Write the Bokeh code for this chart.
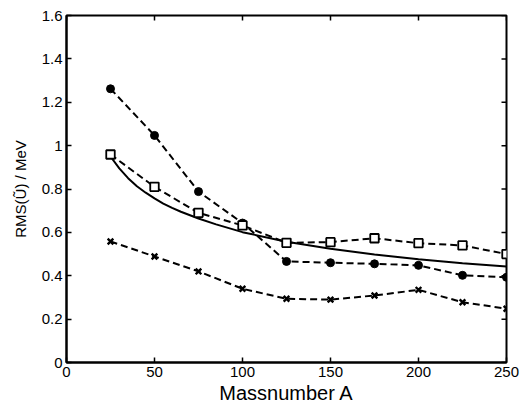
from bokeh.plotting import figure
from bokeh.models import Range1d, FixedTicker, LinearAxis, Title
from bokeh.embed import file_html
from bokeh.resources import INLINE

# ---- data ----
mass = [25, 50, 75, 100, 125, 150, 175, 200, 225, 250]
rms_dots = [1.262, 1.047, 0.788, 0.643, 0.466, 0.460, 0.455, 0.448, 0.402, 0.393]
rms_squares = [0.959, 0.810, 0.690, 0.632, 0.552, 0.555, 0.573, 0.550, 0.540, 0.500]
rms_crosses = [0.558, 0.489, 0.420, 0.340, 0.294, 0.290, 0.309, 0.335, 0.278, 0.248]

fit_mass = [25, 30, 35, 40, 45, 50, 55, 60, 65, 75, 85, 100, 125, 150, 175, 200, 225, 250]
fit_rms = [0.950, 0.895, 0.850, 0.813, 0.783, 0.757, 0.733, 0.713, 0.695, 0.664,
           0.637, 0.601, 0.557, 0.524, 0.498, 0.476, 0.458, 0.443]

x_ticks = [0, 50, 100, 150, 200, 250]
x_tick_labels = ["0", "50", "100", "150", "200", "250"]
y_ticks = [0, 0.2, 0.4, 0.6, 0.8, 1.0, 1.2, 1.4, 1.6]
y_tick_labels = ["0", "0.2", "0.4", "0.6", "0.8", "1", "1.2", "1.4", "1.6"]

FONT = "Liberation Sans"
X_MIN, X_MAX = 0, 250
Y_MIN, Y_MAX = 0, 1.6

p = figure(frame_width=440, frame_height=347, output_backend="svg", toolbar_location=None,
           x_range=Range1d(X_MIN, X_MAX), y_range=Range1d(Y_MIN, Y_MAX),
           x_axis_location=None, y_axis_location=None,
           min_border_left=66, min_border_right=15, min_border_top=15, min_border_bottom=0)
p.grid.visible = False
p.background_fill_color = "white"
p.border_fill_color = "white"
p.outline_line_color = "black"
p.outline_line_width = 2


def make_axis(ticks, labels):
    ax = LinearAxis(ticker=FixedTicker(ticks=ticks),
                    major_label_overrides={t: l for t, l in zip(ticks, labels)})
    ax.axis_line_width = 2
    ax.axis_line_color = "black"
    ax.major_tick_in = 5
    ax.major_tick_out = 0
    ax.major_tick_line_width = 1.5
    ax.major_tick_line_color = "black"
    ax.minor_tick_line_color = None
    ax.major_label_text_font = FONT
    ax.major_label_text_font_size = "15px"
    ax.major_label_text_color = "black"
    return ax


xb = make_axis(x_ticks, x_tick_labels)
xb.major_label_standoff = 4
p.add_layout(xb, "below")

yl = make_axis(y_ticks, y_tick_labels)
yl.major_label_standoff = 4
yl.axis_label = "RMS(Ũ) / MeV"
yl.axis_label_text_font = FONT
yl.axis_label_text_font_size = "15px"
yl.axis_label_text_font_style = "normal"
yl.axis_label_text_color = "black"
yl.axis_label_standoff = 10
p.add_layout(yl, "left")

xtitle = Title(text="Massnumber A", align="center", offset=15, standoff=0,
               text_font=FONT, text_font_size="20px", text_font_style="normal",
               text_color="black")
p.add_layout(xtitle, "below")

# inward ticks on the top and right edges of the box
tick_dx = 5 * (X_MAX - X_MIN) / 440
tick_dy = 5 * (Y_MAX - Y_MIN) / 347
p.segment(x0=x_ticks, y0=[Y_MAX] * len(x_ticks), x1=x_ticks,
          y1=[Y_MAX - tick_dy] * len(x_ticks), line_color="black", line_width=1.5)
p.segment(x0=[X_MAX] * len(y_ticks), y0=y_ticks, x1=[X_MAX - tick_dx] * len(y_ticks),
          y1=y_ticks, line_color="black", line_width=1.5)

dash = "7 4"
p.line(mass, rms_dots, line_color="black", line_width=2, line_dash=dash)
p.line(mass, rms_squares, line_color="black", line_width=2, line_dash=dash)
p.line(mass, rms_crosses, line_color="black", line_width=2, line_dash=dash)
p.line(fit_mass, fit_rms, line_color="black", line_width=2)

p.scatter(mass, rms_dots, marker="circle", size=8, fill_color="black", line_color="black")
p.scatter(mass, rms_squares, marker="square", size=8.5, fill_color="white",
          line_color="black", line_width=1.8)
p.scatter(mass, rms_crosses, marker="x", size=8, line_color="black", line_width=2.4)

open("out.html", "w").write(file_html(p, INLINE))
